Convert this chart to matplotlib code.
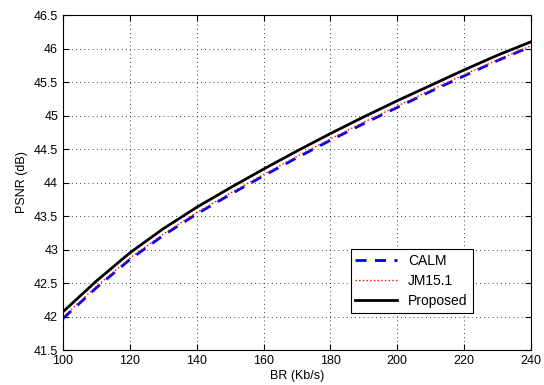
import numpy as np
import matplotlib.pyplot as plt

plt.rcParams['font.family'] = ['Liberation Sans', 'DejaVu Sans']

# Datos
br = [100, 110, 120, 130, 140, 150, 160, 170, 180, 190, 200, 210, 220, 230, 240]
psnr_calm = [41.97, 42.43, 42.85, 43.21, 43.53, 43.82, 44.10, 44.37, 44.63, 44.88, 45.12, 45.36, 45.59, 45.82, 46.03]
psnr_jm = [41.99, 42.45, 42.87, 43.23, 43.55, 43.84, 44.12, 44.39, 44.65, 44.90, 45.14, 45.38, 45.61, 45.83, 46.04]
psnr_prop = [42.07, 42.53, 42.95, 43.31, 43.63, 43.92, 44.20, 44.47, 44.73, 44.98, 45.22, 45.45, 45.68, 45.90, 46.10]

xticks = [100, 120, 140, 160, 180, 200, 220, 240]
yticks = [41.5, 42, 42.5, 43, 43.5, 44, 44.5, 45, 45.5, 46, 46.5]

fig = plt.figure(figsize=(5.44, 3.85), dpi=100)
ax = fig.add_axes([0.1158, 0.0909, 0.8602, 0.8701])

ax.plot(br, psnr_calm, '--', color='blue', linewidth=2, dashes=(4, 3), label='CALM')
ax.plot(br, psnr_jm, ':', color='red', linewidth=1, label='JM15.1')
ax.plot(br, psnr_prop, '-', color='black', linewidth=2, label='Proposed')

ax.set_xlim(100, 240)
ax.set_ylim(41.5, 46.5)
ax.set_xticks(xticks)
ax.set_yticks(yticks)
ax.set_yticklabels(['41.5', '42', '42.5', '43', '43.5', '44', '44.5', '45', '45.5', '46', '46.5'])
ax.tick_params(direction='in', top=True, right=True, labelsize=9, length=4)
ax.grid(True, linestyle=(0, (1, 4)), color='black', linewidth=0.6)
ax.set_xlabel('BR (Kb/s)', fontsize=9, labelpad=2)
ax.set_ylabel('PSNR (dB)', fontsize=9)
for s in ax.spines.values():
    s.set_linewidth(0.8)

leg = ax.legend(loc='lower right', bbox_to_anchor=(0.890, 0.090), fontsize=10,
                fancybox=False, framealpha=1, edgecolor='black', handlelength=3.0,
                labelspacing=0.45, borderpad=0.35)
leg.get_frame().set_linewidth(0.8)

fig.savefig('out.png', dpi=100)
